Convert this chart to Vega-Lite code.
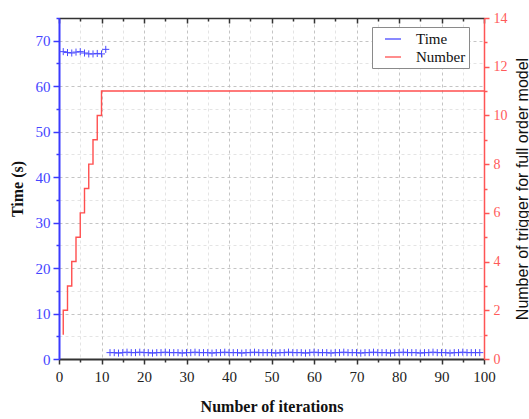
{
  "$schema": "https://vega.github.io/schema/vega-lite/v6.json",
  "width": 425,
  "height": 341,
  "autosize": "none",
  "padding": {"left": 59, "top": 18, "right": 45, "bottom": 60},
  "config": {"view": {"stroke": null}, "font": "Liberation Serif"},
  "layer": [
    {
      "data": {"values": [
        {"iteration": 1, "time": 67.6, "series": "Time"},
        {"iteration": 2, "time": 67.4, "series": "Time"},
        {"iteration": 3, "time": 67.3, "series": "Time"},
        {"iteration": 4, "time": 67.5, "series": "Time"},
        {"iteration": 5, "time": 67.6, "series": "Time"},
        {"iteration": 6, "time": 67.3, "series": "Time"},
        {"iteration": 7, "time": 67.1, "series": "Time"},
        {"iteration": 8, "time": 67.1, "series": "Time"},
        {"iteration": 9, "time": 67.2, "series": "Time"},
        {"iteration": 10, "time": 67.1, "series": "Time"},
        {"iteration": 11, "time": 68.1, "series": "Time"},
        {"iteration": 12, "time": 1.4, "series": "Time"},
        {"iteration": 13, "time": 1.4, "series": "Time"},
        {"iteration": 14, "time": 1.3, "series": "Time"},
        {"iteration": 15, "time": 1.4, "series": "Time"},
        {"iteration": 16, "time": 1.5, "series": "Time"},
        {"iteration": 17, "time": 1.4, "series": "Time"},
        {"iteration": 18, "time": 1.4, "series": "Time"},
        {"iteration": 19, "time": 1.5, "series": "Time"},
        {"iteration": 20, "time": 1.4, "series": "Time"},
        {"iteration": 21, "time": 1.4, "series": "Time"},
        {"iteration": 22, "time": 1.3, "series": "Time"},
        {"iteration": 23, "time": 1.4, "series": "Time"},
        {"iteration": 24, "time": 1.4, "series": "Time"},
        {"iteration": 25, "time": 1.5, "series": "Time"},
        {"iteration": 26, "time": 1.4, "series": "Time"},
        {"iteration": 27, "time": 1.4, "series": "Time"},
        {"iteration": 28, "time": 1.4, "series": "Time"},
        {"iteration": 29, "time": 1.3, "series": "Time"},
        {"iteration": 30, "time": 1.4, "series": "Time"},
        {"iteration": 31, "time": 1.4, "series": "Time"},
        {"iteration": 32, "time": 1.5, "series": "Time"},
        {"iteration": 33, "time": 1.4, "series": "Time"},
        {"iteration": 34, "time": 1.4, "series": "Time"},
        {"iteration": 35, "time": 1.4, "series": "Time"},
        {"iteration": 36, "time": 1.3, "series": "Time"},
        {"iteration": 37, "time": 1.4, "series": "Time"},
        {"iteration": 38, "time": 1.4, "series": "Time"},
        {"iteration": 39, "time": 1.5, "series": "Time"},
        {"iteration": 40, "time": 1.4, "series": "Time"},
        {"iteration": 41, "time": 1.4, "series": "Time"},
        {"iteration": 42, "time": 1.4, "series": "Time"},
        {"iteration": 43, "time": 1.3, "series": "Time"},
        {"iteration": 44, "time": 1.4, "series": "Time"},
        {"iteration": 45, "time": 1.4, "series": "Time"},
        {"iteration": 46, "time": 1.5, "series": "Time"},
        {"iteration": 47, "time": 1.4, "series": "Time"},
        {"iteration": 48, "time": 1.4, "series": "Time"},
        {"iteration": 49, "time": 1.4, "series": "Time"},
        {"iteration": 50, "time": 1.4, "series": "Time"},
        {"iteration": 51, "time": 1.3, "series": "Time"},
        {"iteration": 52, "time": 1.4, "series": "Time"},
        {"iteration": 53, "time": 1.4, "series": "Time"},
        {"iteration": 54, "time": 1.5, "series": "Time"},
        {"iteration": 55, "time": 1.4, "series": "Time"},
        {"iteration": 56, "time": 1.4, "series": "Time"},
        {"iteration": 57, "time": 1.4, "series": "Time"},
        {"iteration": 58, "time": 1.3, "series": "Time"},
        {"iteration": 59, "time": 1.4, "series": "Time"},
        {"iteration": 60, "time": 1.5, "series": "Time"},
        {"iteration": 61, "time": 1.4, "series": "Time"},
        {"iteration": 62, "time": 1.4, "series": "Time"},
        {"iteration": 63, "time": 1.4, "series": "Time"},
        {"iteration": 64, "time": 1.3, "series": "Time"},
        {"iteration": 65, "time": 1.4, "series": "Time"},
        {"iteration": 66, "time": 1.4, "series": "Time"},
        {"iteration": 67, "time": 1.5, "series": "Time"},
        {"iteration": 68, "time": 1.4, "series": "Time"},
        {"iteration": 69, "time": 1.4, "series": "Time"},
        {"iteration": 70, "time": 1.4, "series": "Time"},
        {"iteration": 71, "time": 1.3, "series": "Time"},
        {"iteration": 72, "time": 1.4, "series": "Time"},
        {"iteration": 73, "time": 1.4, "series": "Time"},
        {"iteration": 74, "time": 1.5, "series": "Time"},
        {"iteration": 75, "time": 1.4, "series": "Time"},
        {"iteration": 76, "time": 1.4, "series": "Time"},
        {"iteration": 77, "time": 1.4, "series": "Time"},
        {"iteration": 78, "time": 1.3, "series": "Time"},
        {"iteration": 79, "time": 1.4, "series": "Time"},
        {"iteration": 80, "time": 1.4, "series": "Time"},
        {"iteration": 81, "time": 1.5, "series": "Time"},
        {"iteration": 82, "time": 1.4, "series": "Time"},
        {"iteration": 83, "time": 1.4, "series": "Time"},
        {"iteration": 84, "time": 1.4, "series": "Time"},
        {"iteration": 85, "time": 1.3, "series": "Time"},
        {"iteration": 86, "time": 1.4, "series": "Time"},
        {"iteration": 87, "time": 1.4, "series": "Time"},
        {"iteration": 88, "time": 1.5, "series": "Time"},
        {"iteration": 89, "time": 1.4, "series": "Time"},
        {"iteration": 90, "time": 1.4, "series": "Time"},
        {"iteration": 91, "time": 1.4, "series": "Time"},
        {"iteration": 92, "time": 1.3, "series": "Time"},
        {"iteration": 93, "time": 1.4, "series": "Time"},
        {"iteration": 94, "time": 1.4, "series": "Time"},
        {"iteration": 95, "time": 1.5, "series": "Time"},
        {"iteration": 96, "time": 1.4, "series": "Time"},
        {"iteration": 97, "time": 1.4, "series": "Time"},
        {"iteration": 98, "time": 1.4, "series": "Time"},
        {"iteration": 99, "time": 1.4, "series": "Time"}
      ]},
      "mark": {"type": "point", "shape": "M-1,0L1,0M0,-1L0,1", "filled": false, "strokeWidth": 1, "size": 50, "opacity": 1, "clip": true},
      "encoding": {
        "x": {
          "field": "iteration", "type": "quantitative",
          "scale": {"domain": [0, 100], "nice": false, "zero": false},
          "axis": {
            "orient": "bottom", "title": "Number of iterations",
            "values": [0,5,10,15,20,25,30,35,40,45,50,55,60,65,70,75,80,85,90,95,100],
            "labelExpr": "datum.value % 10 == 0 ? datum.label : ''",
            "domainColor": "#333333", "domainWidth": 2,
            "tickColor": "#333333", "tickWidth": 1.5,
            "tickSize": {"condition": {"test": "datum.value % 10 == 0", "value": 5}, "value": 3},
            "labelFont": "Liberation Serif", "labelFontSize": 15, "labelColor": "#222222", "labelPadding": 5,
            "labelFlush": false,
            "titleFont": "Liberation Serif", "titleFontSize": 16, "titleFontWeight": "bold", "titleColor": "#111111", "titlePadding": 14,
            "grid": true, "gridDash": [3, 3], "gridWidth": 0.8,
            "gridColor": {"condition": {"test": "datum.value % 10 == 0", "value": "#b5b5b5"}, "value": "#dddddd"}
          }
        },
        "y": {
          "field": "time", "type": "quantitative",
          "scale": {"domain": [0, 75], "nice": false},
          "axis": {
            "orient": "left", "title": "Time (s)",
            "values": [0,5,10,15,20,25,30,35,40,45,50,55,60,65,70,75],
            "labelExpr": "datum.value % 10 == 0 ? datum.label : ''",
            "domainColor": "#3a3aff", "domainWidth": 2,
            "tickColor": "#3a3aff", "tickWidth": 1.5,
            "tickSize": {"condition": {"test": "datum.value % 10 == 0", "value": 6}, "value": 3},
            "labelFont": "Liberation Serif", "labelFontSize": 15, "labelColor": "#4545ff", "labelPadding": 3,
            "titleFont": "Liberation Serif", "titleFontSize": 16, "titleFontWeight": "bold", "titleColor": "#111111", "titlePadding": 10,
            "grid": true, "gridDash": [3, 3], "gridWidth": 0.8,
            "gridColor": {"condition": {"test": "datum.value % 10 == 0", "value": "#b5b5b5"}, "value": "#dddddd"}
          }
        },
        "color": {
          "field": "series", "type": "nominal",
          "scale": {"domain": ["Time", "Number"], "range": ["#4a4aff", "#ff4f4f"]},
          "legend": {
            "title": null, "orient": "none", "legendX": 313, "legendY": 9,
            "strokeColor": "#8a8a8a", "fillColor": "white", "padding": 3,
            "labelFont": "Liberation Serif", "labelFontSize": 15, "labelColor": "#111111", "labelOffset": 14,
            "symbolType": "stroke", "symbolSize": 256, "symbolStrokeWidth": 1.3, "symbolOffset": 9, "rowPadding": 1
          }
        }
      }
    },
    {
      "data": {"values": [
        {"iteration": 1, "count": 1, "series": "Number"},
        {"iteration": 2, "count": 2, "series": "Number"},
        {"iteration": 3, "count": 3, "series": "Number"},
        {"iteration": 4, "count": 4, "series": "Number"},
        {"iteration": 5, "count": 5, "series": "Number"},
        {"iteration": 6, "count": 6, "series": "Number"},
        {"iteration": 7, "count": 7, "series": "Number"},
        {"iteration": 8, "count": 8, "series": "Number"},
        {"iteration": 9, "count": 9, "series": "Number"},
        {"iteration": 10, "count": 10, "series": "Number"},
        {"iteration": 11, "count": 11, "series": "Number"},
        {"iteration": 100, "count": 11, "series": "Number"}
      ]},
      "mark": {"type": "line", "interpolate": "step-before", "strokeWidth": 1.4},
      "encoding": {
        "x": {
          "field": "iteration", "type": "quantitative",
          "scale": {"domain": [0, 100], "nice": false, "zero": false},
          "axis": {
            "orient": "top", "title": null, "labels": false, "grid": false,
            "values": [0,5,10,15,20,25,30,35,40,45,50,55,60,65,70,75,80,85,90,95,100],
            "domainColor": "#333333", "domainWidth": 1.5,
            "tickColor": "#333333", "tickWidth": 1.5,
            "tickSize": {"condition": {"test": "datum.value % 10 == 0", "value": -5}, "value": -3}
          }
        },
        "y": {
          "field": "count", "type": "quantitative",
          "scale": {"domain": [0, 14], "nice": false},
          "axis": {
            "orient": "right", "title": "Number of trigger for full order model",
            "values": [0,1,2,3,4,5,6,7,8,9,10,11,12,13,14],
            "labelExpr": "datum.value % 2 == 0 ? datum.label : ''",
            "domainColor": "#ff5555", "domainWidth": 1.5,
            "tickColor": "#ff5555", "tickWidth": 1.5,
            "tickSize": {"condition": {"test": "datum.value % 2 == 0", "value": 5}, "value": 3},
            "labelFont": "Liberation Serif", "labelFontSize": 14, "labelColor": "#ff5a5a", "labelPadding": 4,
            "titleFont": "Liberation Sans", "titleFontSize": 16, "titleFontWeight": "normal", "titleColor": "#111111",
            "titleAngle": 270, "titlePadding": 23, "grid": false
          }
        },
        "color": {"field": "series", "type": "nominal", "scale": {"domain": ["Time", "Number"], "range": ["#4a4aff", "#ff4f4f"]}}
      }
    }
  ],
  "resolve": {"scale": {"y": "independent"}, "axis": {"x": "independent"}}
}
